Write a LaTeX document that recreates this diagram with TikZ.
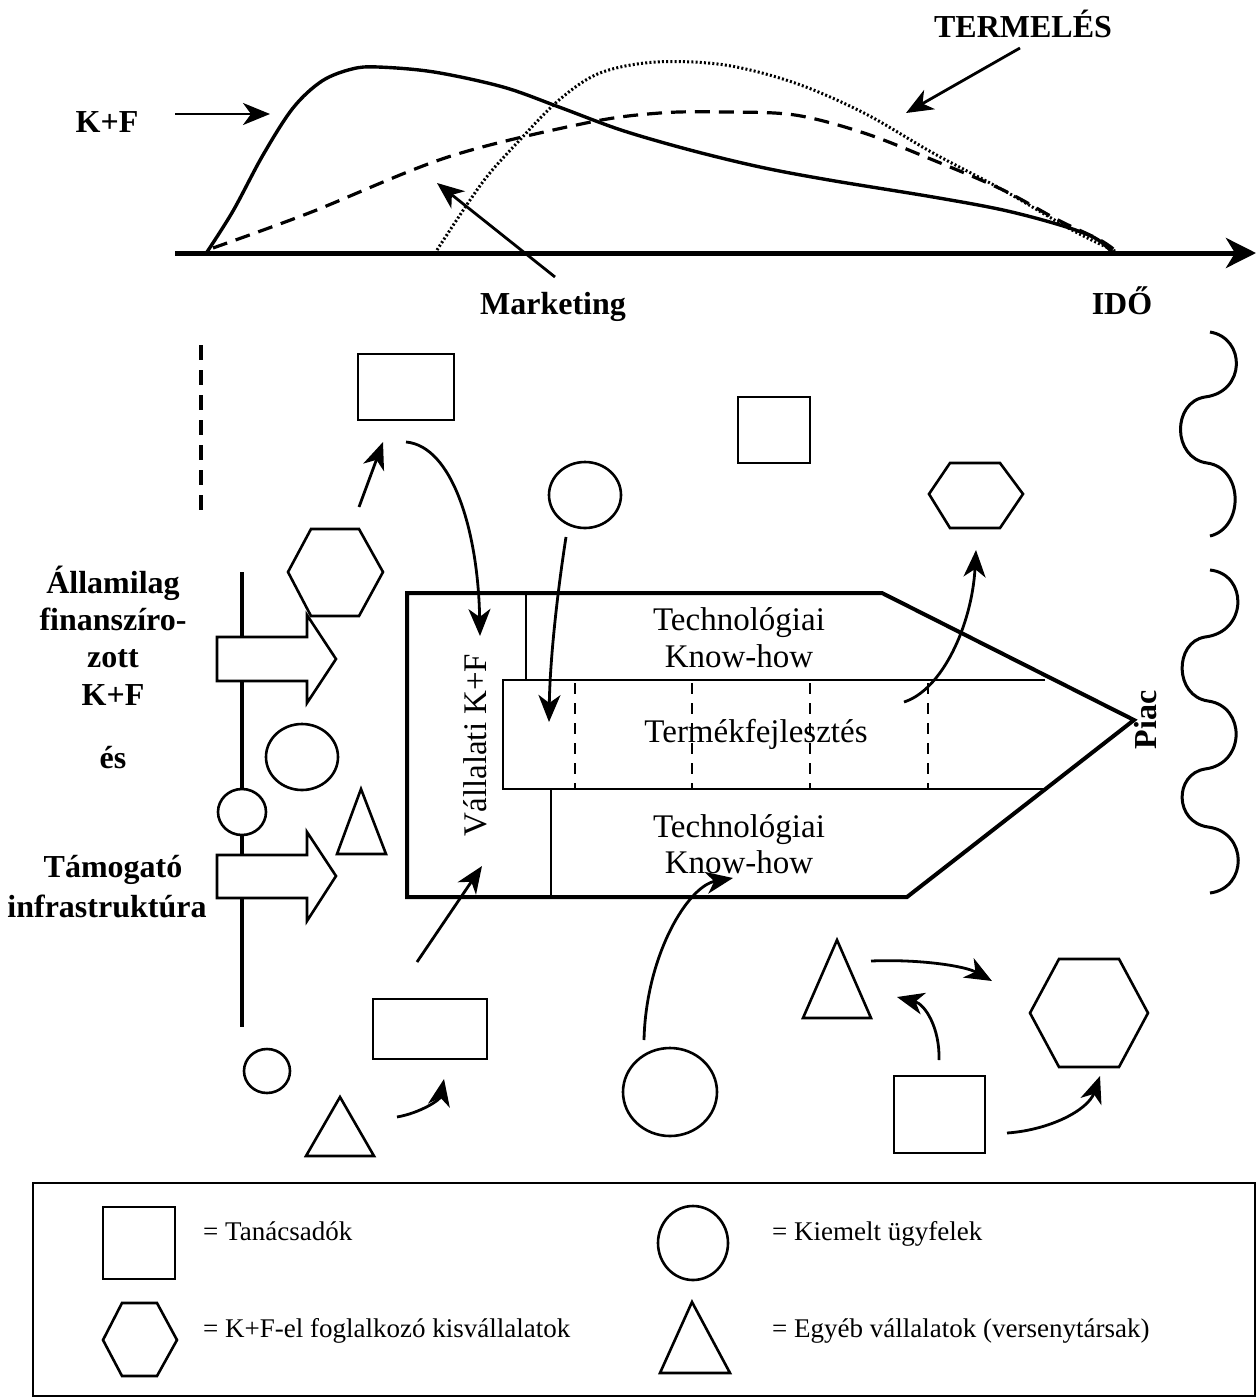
\documentclass[tikz,border=0pt]{standalone}
\usepackage{fontspec}
\setmainfont{Liberation Serif}
\usetikzlibrary{arrows.meta}

\begin{document}
\begin{tikzpicture}[x=1pt,y=-1pt,
  outline/.style={line width=2.6pt, line join=miter},
  heavy/.style={line width=4pt, line join=miter},
  thin/.style={line width=2pt},
  conn/.style={line width=2.8pt, -{Stealth[length=27pt,width=22pt,inset=8pt]}},
  curveline/.style={line width=3.4pt},
  labelbold/.style={font=\fontsize{32}{38}\selectfont\bfseries, anchor=base, inner sep=0pt},
  bodytxt/.style={font=\fontsize{33}{38}\selectfont, anchor=base, inner sep=0pt},
  keytxt/.style={font=\fontsize{27}{32}\selectfont, anchor=base west, inner sep=0pt},
]
\useasboundingbox (0,0) rectangle (1258,1398);

% ---------------- life-cycle curves ----------------
\coordinate (axisStart) at (175,253);
\coordinate (axisEnd) at (1256,253);
\draw[line width=5pt, -{Stealth[length=30pt,width=30pt,inset=9pt]}] (axisStart) -- (axisEnd);

% K+F (solid)
\draw[curveline] plot[smooth, tension=0.55] coordinates {
  (207,252) (233,211) (263,155) (293,108) (322,81) (352,69) (378,67)
  (434,72) (503,87) (559,107) (621,130) (690,150) (760,167) (829,180)
  (933,197) (1003,210) (1060,225) (1095,238) (1112,252)};
% Marketing (dashed)
\draw[line width=3.2pt, dash pattern=on 15pt off 9pt] plot[smooth, tension=0.55] coordinates {
  (213,248) (309,213) (448,157) (586,123) (660,113) (725,112) (795,115)
  (864,133) (933,160) (1003,190) (1058,220) (1100,240) (1117,252)};
% Termeles (dotted)
\draw[line width=3pt, dash pattern=on 2pt off 2.2pt] plot[smooth, tension=0.55] coordinates {
  (437,250) (482,183) (517,143) (559,100) (600,73) (656,62) (725,65)
  (795,83) (864,113) (933,153) (1003,190) (1072,230) (1117,252)};

\node[labelbold] (kfLabel) at (107,132) {K+F};
\node[labelbold] (termLabel) at (1023,37) {TERMELÉS};
\node[labelbold] (mktLabel) at (553,314) {Marketing};
\node[labelbold] (idoLabel) at (1122,314) {IDŐ};

\coordinate (kfArrowFrom) at (175,114);
\coordinate (kfArrowTo) at (270,114);
\draw[conn] (kfArrowFrom) -- (kfArrowTo);
\coordinate (termArrowFrom) at (1020,48);
\coordinate (termArrowTo) at (906,113);
\draw[conn] (termArrowFrom) -- (termArrowTo);
\coordinate (mktArrowFrom) at (555,277);
\coordinate (mktArrowTo) at (437,183);
\draw[conn] (mktArrowFrom) -- (mktArrowTo);

% ---------------- left border ----------------
\draw[line width=3.5pt, dash pattern=on 15pt off 10pt] (201,345) -- (201,520);
\draw[line width=3.5pt] (242,572) -- (242,1027);

% block arrows
\draw[outline, fill=white] (217,637) -- (307,637) -- (307,615) -- (336,659) -- (307,703)
  -- (307,681) -- (217,681) -- cycle;
\draw[outline, fill=white] (217,855) -- (307,855) -- (307,832) -- (336,876) -- (307,921)
  -- (307,898) -- (217,898) -- cycle;
\draw[outline, fill=white] (242,812) ellipse [x radius=24, y radius=23];

\node[labelbold] (l1) at (113,593) {Államilag};
\node[labelbold] (l2) at (113,630) {finanszíro-};
\node[labelbold] (l3) at (113,667) {zott};
\node[labelbold] (l4) at (113,705) {K+F};
\node[labelbold] (l5) at (113,768) {és};
\node[labelbold] (l6) at (113,877) {Támogató};
\node[labelbold] (l7) at (107,917) {infrastruktúra};

% ---------------- scattered actors ----------------
\draw[outline] (358,354) rectangle (454,420);
\draw[outline] (738,397) rectangle (810,463);
\draw[outline] (373,999) rectangle (487,1059);
\draw[outline] (894,1076) rectangle (985,1153);

\draw[outline] (585,495) ellipse [x radius=36, y radius=33];
\draw[outline] (302,757) ellipse [x radius=36, y radius=33];
\draw[outline] (267,1071) ellipse [x radius=23, y radius=22];
\draw[outline] (670,1092) ellipse [x radius=47, y radius=44];

\draw[outline] (288,572) -- (311,529) -- (359,529) -- (383,572) -- (359,616) -- (311,616) -- cycle;
\draw[outline] (929,494) -- (950,463) -- (1000,463) -- (1023,494) -- (1000,528) -- (950,528) -- cycle;
\draw[outline] (1030,1013) -- (1059,959) -- (1119,959) -- (1148,1013) -- (1119,1067) -- (1059,1067) -- cycle;

\draw[outline] (361,789) -- (386,854) -- (337,854) -- cycle;
\draw[outline] (340,1097) -- (374,1156) -- (306,1156) -- cycle;
\draw[outline] (837,940) -- (871,1018) -- (803,1018) -- cycle;

% ---------------- company block ----------------
\draw[heavy] (407,593) -- (882,593) -- (1134,720) -- (907,897) -- (407,897) -- cycle;
\draw[thin] (526,593) -- (526,680);
\draw[line width=2.6pt] (1045,680) -- (503,680) -- (503,789) -- (1045,789);
\draw[thin] (551,789) -- (551,897);
\foreach \xx in {575,692,810,928}
  \draw[line width=1.6pt, dash pattern=on 11pt off 9pt] (\xx,683) -- (\xx,788);

\node[bodytxt] (techA1) at (739,630) {Technológiai};
\node[bodytxt] (techA2) at (739,667) {Know-how};
\node[bodytxt] (prodDev) at (756,742) {Termékfejlesztés};
\node[bodytxt] (techB1) at (739,837) {Technológiai};
\node[bodytxt] (techB2) at (739,873) {Know-how};
\node[bodytxt, rotate=90] (corpRD) at (486,745) {Vállalati K+F};
\node[labelbold, rotate=90] (market) at (1156,720) {Piac};

% ---------------- flows ----------------
\coordinate (hexUp) at (359,507);
\coordinate (consTop) at (383,442);
\draw[conn] (hexUp) -- (consTop);

\coordinate (consOut) at (406,442);
\coordinate (corpIn) at (480,636);
\draw[conn] (consOut) .. controls (452,446) and (478,530) .. (corpIn);

\coordinate (cliOut) at (566,537);
\coordinate (prodIn) at (549,722);
\draw[conn] (cliOut) .. controls (557,595) and (550,660) .. (prodIn);

\coordinate (prodOut) at (904,702);
\coordinate (hexIn) at (976,550);
\draw[conn] (prodOut) .. controls (942,690) and (972,625) .. (hexIn);

\coordinate (boxOut) at (417,962);
\coordinate (corpBottom) at (482,866);
\draw[conn] (boxOut) -- (corpBottom);

\coordinate (ellOut) at (644,1040);
\coordinate (techIn) at (733,878);
\draw[conn] (ellOut) .. controls (646,955) and (688,886) .. (techIn);

\coordinate (triOut) at (397,1117);
\coordinate (boxIn) at (444,1079);
\draw[conn] (triOut) .. controls (420,1113) and (440,1100) .. (boxIn);

\coordinate (triRightOut) at (871,961);
\coordinate (hexLeftIn) at (992,981);
\draw[conn] (triRightOut) .. controls (920,959) and (965,966) .. (hexLeftIn);

\coordinate (rectUp) at (939,1060);
\coordinate (triIn) at (897,997);
\draw[conn] (rectUp) .. controls (940,1028) and (925,1004) .. (triIn);

\coordinate (rectRight) at (1007,1133);
\coordinate (hexBottomIn) at (1100,1076);
\draw[conn] (rectRight) .. controls (1050,1130) and (1088,1110) .. (hexBottomIn);

% ---------------- market waves ----------------
\draw[line width=3pt]
  (1210,332) .. controls (1246,338) and (1246,392) .. (1205,397)
  .. controls (1172,402) and (1172,458) .. (1207,463)
  .. controls (1244,468) and (1244,528) .. (1210,536);
\draw[line width=3pt]
  (1210,570) .. controls (1248,574) and (1248,632) .. (1205,637)
  .. controls (1174,642) and (1174,696) .. (1208,701)
  .. controls (1246,706) and (1246,764) .. (1205,769)
  .. controls (1174,774) and (1174,822) .. (1208,827)
  .. controls (1248,832) and (1248,888) .. (1210,893);

% ---------------- legend ----------------
\draw[line width=2pt] (33,1183) rectangle (1255,1396);
\draw[outline] (103,1207) rectangle (175,1279);
\node[keytxt] (keyCons) at (203,1240) {= Tanácsadók};
\draw[outline] (693,1243) ellipse [x radius=35, y radius=37];
\node[keytxt] (keyCli) at (772,1240) {= Kiemelt ügyfelek};
\draw[outline] (103,1340) -- (122,1303) -- (157,1303) -- (177,1340) -- (157,1376) -- (122,1376) -- cycle;
\node[keytxt] (keySme) at (203,1337) {= K+F-el foglalkozó kisvállalatok};
\draw[outline] (692,1302) -- (730,1373) -- (660,1373) -- cycle;
\node[keytxt] (keyComp) at (772,1337) {= Egyéb vállalatok (versenytársak)};

\end{tikzpicture}
\end{document}
